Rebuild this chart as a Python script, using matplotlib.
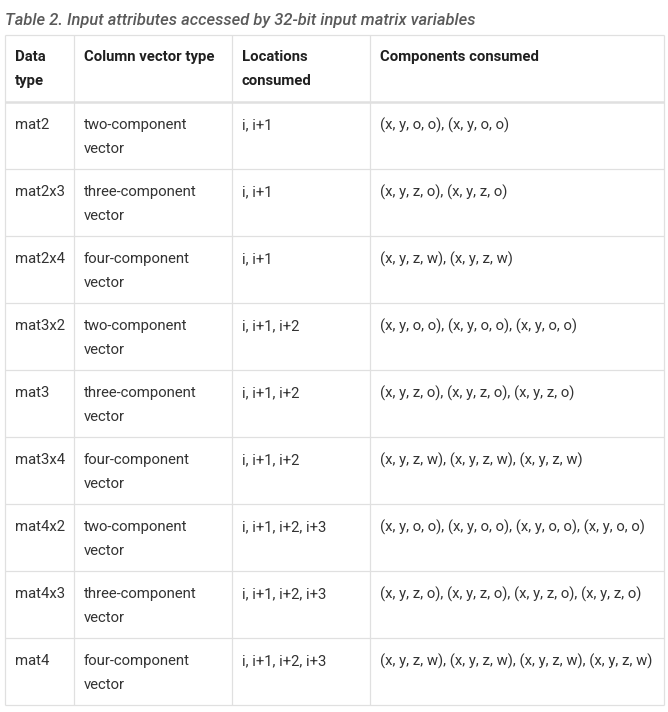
import matplotlib.pyplot as plt

# table content
title = "Table 2. Input attributes accessed by 32-bit input matrix variables"
headers = ["Data\ntype", "Column vector type", "Locations\nconsumed", "Components consumed"]
data_types = ["mat2", "mat2x3", "mat2x4", "mat3x2", "mat3", "mat3x4", "mat4x2", "mat4x3", "mat4"]
vector_types = ["two-component\nvector", "three-component\nvector", "four-component\nvector"] * 3
locations = ["i, i+1"] * 3 + ["i, i+1, i+2"] * 3 + ["i, i+1, i+2, i+3"] * 3
comp2 = "(x, y, o, o)"
comp3 = "(x, y, z, o)"
comp4 = "(x, y, z, w)"
components = [", ".join([c] * n) for n in (2, 3, 4) for c in (comp2, comp3, comp4)]

W, H = 668, 712
col_x = [5, 74, 232, 370, 664]
top = 35
head_bot = 102
row_h = 67
pad_x = 10
line_gap = 24

border = '#e0e0e0'
txt = '#333333'

plt.rcParams['font.family'] = ['Roboto', 'DejaVu Sans']
fig = plt.figure(figsize=(W / 100, H / 100), dpi=100)
ax = fig.add_axes([0, 0, 1, 1])
ax.set_xlim(0, W)
ax.set_ylim(H, 0)
ax.axis('off')

ax.text(5, 20, title, fontsize=11.9, style='italic', fontweight='medium',
        color='#5a5a5a', va='center', ha='left')

n = len(data_types)
bottom = head_bot + n * row_h

# grid lines
ax.hlines(top, col_x[0], col_x[-1], color=border, lw=0.9)
ax.hlines(head_bot, col_x[0], col_x[-1], color=border, lw=1.8)
for i in range(1, n + 1):
    ax.hlines(head_bot + i * row_h, col_x[0], col_x[-1], color=border, lw=0.9)
ax.vlines(col_x, top, bottom, color=border, lw=0.9)

def cell(ci, y0, s, **kw):
    for k, line in enumerate(s.split("\n")):
        ax.text(col_x[ci] + pad_x, y0 + 22 + k * line_gap, line, fontsize=10.7,
                va='center', ha='left', **kw)

for ci, h in enumerate(headers):
    cell(ci, top, h, color='#202020', fontweight='bold')

for r in range(n):
    y0 = head_bot + r * row_h + 1
    for ci, s in enumerate([data_types[r], vector_types[r], locations[r], components[r]]):
        cell(ci, y0, s, color=txt)

fig.savefig('out.png', dpi=100, facecolor='white')
